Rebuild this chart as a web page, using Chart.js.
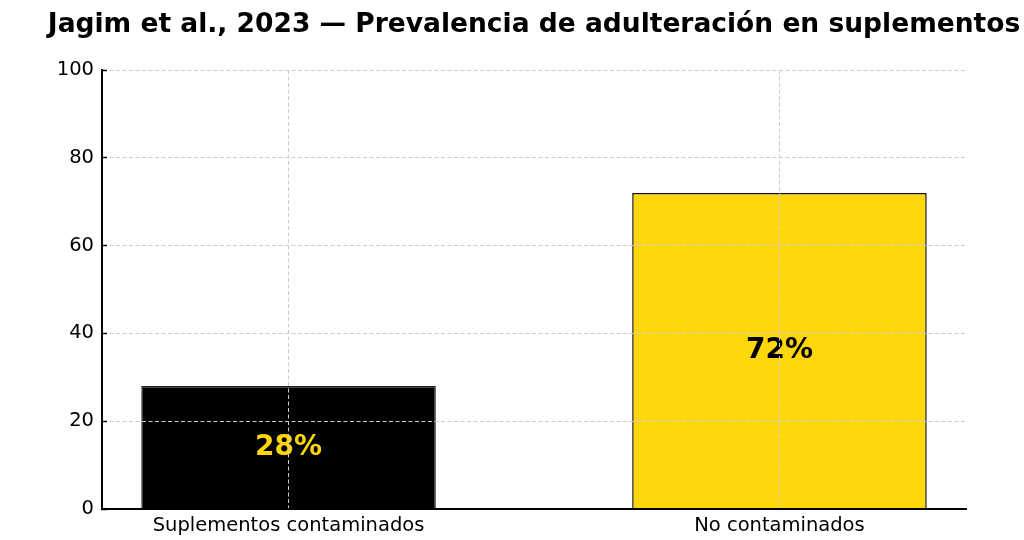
<!DOCTYPE html>
<html>
<head>
<meta charset="utf-8">
<script src="https://cdn.jsdelivr.net/npm/chart.js@4.4.0/dist/chart.umd.min.js"></script>
<style>
  body { margin: 0; background: #fff; }
  canvas { display: block; }
</style>
</head>
<body>
<canvas id="adulterationChart" width="1024" height="540"></canvas>
<script>
const chartTitle = "Jagim et al., 2023 — Prevalencia de adulteración en suplementos";
const categories = ["Suplementos contaminados", "No contaminados"];
const percentages = [28, 72];
const yTicks = [0, 20, 40, 60, 80, 100];

const FONT = "'DejaVu Sans', sans-serif";

// title centred over the plot area, like matplotlib does
const titlePlugin = {
    id: "plotTitle",
    afterDraw(chart) {
        const { ctx, chartArea } = chart;
        ctx.save();
        ctx.font = "bold 26.5px " + FONT;
        ctx.fillStyle = "#000";
        ctx.textAlign = "center";
        ctx.textBaseline = "middle";
        ctx.fillText(chartTitle, (chartArea.left + chartArea.right) / 2, 25);
        ctx.restore();
    }
};

// percentage labels in the middle of each bar
const barLabels = {
    id: "barLabels",
    afterDatasetsDraw(chart) {
        const { ctx } = chart;
        const meta = chart.getDatasetMeta(0);
        const colors = ["#FFD60A", "#000000"];
        ctx.save();
        ctx.font = "bold 28px " + FONT;
        ctx.textAlign = "center";
        ctx.textBaseline = "middle";
        meta.data.forEach((bar, i) => {
            ctx.fillStyle = colors[i];
            ctx.fillText(percentages[i] + "%", bar.x, (bar.y + bar.base) / 2);
        });
        ctx.restore();
    }
};

new Chart(document.getElementById("adulterationChart"), {
    type: "bar",
    data: {
        datasets: [{
            data: percentages.map((v, i) => ({ x: i, y: v })),
            backgroundColor: ["#000000", "#FFD60A"],
            borderColor: ["#222222", "#111111"],
            borderWidth: 1.5,
            barPercentage: 0.6,
            categoryPercentage: 1
        }]
    },
    options: {
        responsive: false,
        animation: false,
        devicePixelRatio: 1,
        layout: {
            padding: { top: 70, right: 58, left: 0, bottom: 0 }
        },
        plugins: {
            legend: { display: false },
            tooltip: { enabled: false }
        },
        scales: {
            x: {
                type: "linear",
                min: -0.38,
                max: 1.38,
                offset: false,
                afterBuildTicks: (scale) => {
                    scale.ticks = categories.map((_, i) => ({ value: i }));
                },
                afterFit: (scale) => { scale.height = 31; },
                grid: {
                    offset: false,
                    color: "#cccccc",
                    lineWidth: 1,
                    z: 1,
                    drawTicks: false
                },
                border: { color: "#000", width: 2, dash: [4, 2.5], z: 2 },
                ticks: {
                    color: "#000",
                    font: { family: FONT, size: 19.5 },
                    padding: 5,
                    maxRotation: 0,
                    callback: (value, index) => categories[index]
                }
            },
            y: {
                min: 0,
                max: 100,
                afterBuildTicks: (scale) => {
                    scale.ticks = yTicks.map(v => ({ value: v }));
                },
                afterFit: (scale) => { scale.width = 102; },
                grid: {
                    color: "#cccccc",
                    lineWidth: 1,
                    z: 1,
                    tickLength: -5,   // inward ticks
                    tickWidth: 1.5,
                    tickColor: "#000"
                },
                border: { color: "#000", width: 2, dash: [4, 2.5], z: 2 },
                ticks: {
                    color: "#000",
                    font: { family: FONT, size: 19.5 },
                    padding: 13
                }
            }
        }
    },
    plugins: [titlePlugin, barLabels]
});
</script>
</body>
</html>
